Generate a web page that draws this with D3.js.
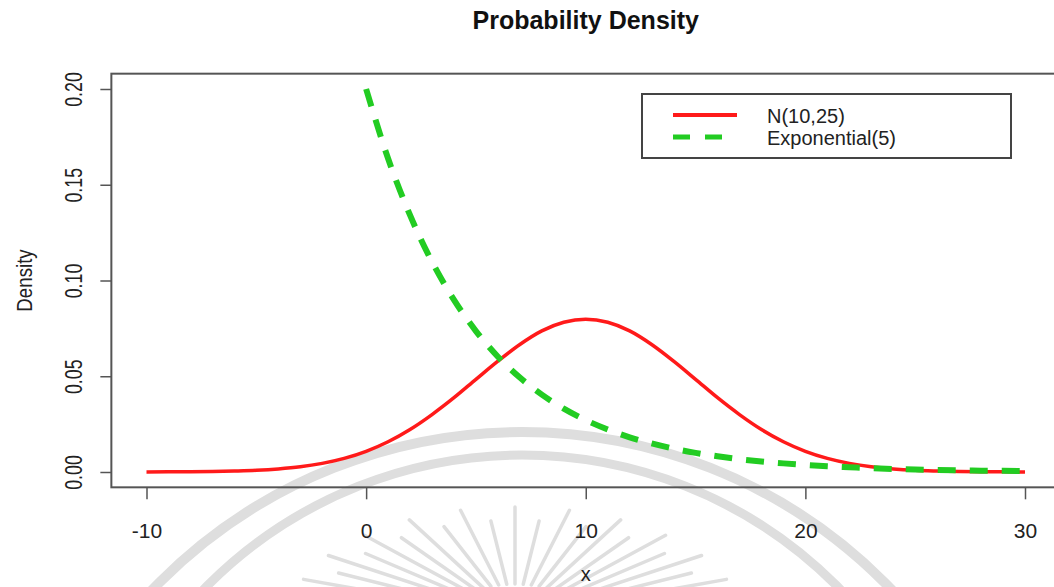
<!DOCTYPE html>
<html>
<head>
<meta charset="utf-8">
<script src="https://cdn.jsdelivr.net/npm/d3@7"></script>
<style>
  html, body { margin: 0; padding: 0; background: #ffffff; }
  svg { display: block; font-family: "Liberation Sans", Arial, sans-serif; }
</style>
</head>
<body>
<script>
// Axis ticks
const xTicks = [-10, 0, 10, 20, 30];
const yTicks = [0, 0.05, 0.10, 0.15, 0.20];
const yTickLabels = ["0.00", "0.05", "0.10", "0.15", "0.20"];

// N(10,25) density curve
const normalX = [-10, -9, -8, -7, -6, -5, -4, -3, -2, -1, 0, 1, 2, 3, 4, 5, 6, 7, 8, 9, 10,
                 11, 12, 13, 14, 15, 16, 17, 18, 19, 20, 21, 22, 23, 24, 25, 26, 27, 28, 29, 30];
const normalDensity = [0.0000, 0.0001, 0.0001, 0.0002, 0.0005, 0.0009, 0.0016, 0.0027, 0.0045, 0.0071,
                       0.0108, 0.0158, 0.0222, 0.0300, 0.0388, 0.0484, 0.0579, 0.0666, 0.0737, 0.0782,
                       0.0798, 0.0782, 0.0737, 0.0666, 0.0579, 0.0484, 0.0388, 0.0300, 0.0222, 0.0158,
                       0.0108, 0.0071, 0.0045, 0.0027, 0.0016, 0.0009, 0.0005, 0.0002, 0.0001, 0.0001, 0.0000];

// Exponential(5) density curve
const expX = [0, 1, 2, 3, 4, 5, 6, 7, 8, 9, 10, 11, 12, 13, 14, 15,
              16, 17, 18, 19, 20, 21, 22, 23, 24, 25, 26, 27, 28, 29, 30];
const expDensity = [0.2000, 0.1637, 0.1341, 0.1098, 0.0899, 0.0736, 0.0602, 0.0493, 0.0404, 0.0331,
                    0.0271, 0.0222, 0.0181, 0.0149, 0.0122, 0.0100, 0.0082, 0.0067, 0.0055, 0.0045,
                    0.0037, 0.0030, 0.0025, 0.0020, 0.0016, 0.0013, 0.0011, 0.0009, 0.0007, 0.0006, 0.0005];

const seriesNames = ["N(10,25)", "Exponential(5)"];
const seriesColors = ["#ff1a1a", "#22cc22"];

const W = 1054, H = 587;
const svg = d3.select("body").append("svg").attr("width", W).attr("height", H);

const x = d3.scaleLinear().domain([-10, 30]).range([146.5, 1025]);
const y = d3.scaleLinear().domain([0, 0.2]).range([472, 89]);

// plot region: data range padded by 4% on each side
const xPad = (x.domain()[1] - x.domain()[0]) * 0.04;
const yPad = (y.domain()[1] - y.domain()[0]) * 0.04;
const boxL = x(x.domain()[0] - xPad), boxR = x(x.domain()[1] + xPad);
const boxT = y(y.domain()[1] + yPad), boxB = y(y.domain()[0] - yPad);

// faint seal in the background
const seal = svg.append("g").attr("fill", "none").attr("stroke", "#dedede");
seal.append("circle").attr("cx", 522).attr("cy", 944).attr("r", 512).attr("stroke-width", 10);
seal.append("circle").attr("cx", 522).attr("cy", 899).attr("r", 444).attr("stroke-width", 9);
const rayCount = 21;
d3.range(rayCount).forEach(i => {
  const th = (-70 + i * 140 / (rayCount - 1)) * Math.PI / 180;
  const s = i % 2 === 0 ? 1 : 0.88;
  const cx = 515, cy = 617, a = 225, b = 110;
  seal.append("line")
    .attr("x1", cx + a * s * Math.sin(th)).attr("y1", cy - b * s * Math.cos(th))
    .attr("x2", cx + a * 0.3 * Math.sin(th)).attr("y2", cy - b * 0.3 * Math.cos(th))
    .attr("stroke-width", 3.5).attr("stroke-linecap", "round");
});

// curves
const line = d3.line().curve(d3.curveMonotoneX);
svg.append("path")
  .attr("d", line(normalX.map((v, i) => [x(v), y(normalDensity[i])])))
  .attr("fill", "none").attr("stroke", seriesColors[0]).attr("stroke-width", 3.5);
svg.append("path")
  .attr("d", line(expX.map((v, i) => [x(v), y(expDensity[i])])))
  .attr("fill", "none").attr("stroke", seriesColors[1]).attr("stroke-width", 6)
  .attr("stroke-dasharray", "18 14");

// plot box
svg.append("rect")
  .attr("x", boxL).attr("y", boxT).attr("width", boxR - boxL).attr("height", boxB - boxT)
  .attr("fill", "none").attr("stroke", "#555").attr("stroke-width", 2);

// x axis
const xAxis = d3.axisBottom(x).tickValues(xTicks).tickSize(12).tickPadding(24).tickFormat(d => String(d));
const gx = svg.append("g").attr("transform", `translate(0,${boxB})`).call(xAxis);
gx.select(".domain").remove();
gx.selectAll(".tick line").attr("stroke", "#555").attr("stroke-width", 1.5);
gx.selectAll(".tick text").attr("font-size", 21).attr("fill", "#222")
  .attr("font-family", "Liberation Sans, Arial, sans-serif").attr("dy", "0.71em");

// y axis
const yAxis = d3.axisLeft(y).tickValues(yTicks).tickSize(11).tickFormat((d, i) => yTickLabels[i]);
const gy = svg.append("g").attr("transform", `translate(${boxL},0)`).call(yAxis);
gy.select(".domain").remove();
gy.selectAll(".tick line").attr("stroke", "#555").attr("stroke-width", 1.5);
gy.selectAll(".tick text")
  .attr("x", null).attr("dy", null)
  .attr("text-anchor", "middle")
  .attr("font-size", 24).attr("fill", "#222")
  .attr("font-family", "Liberation Sans, Arial, sans-serif")
  .attr("transform", `translate(${82 - boxL},0) rotate(-90) scale(0.74,1)`);

// titles
svg.append("text").attr("x", (boxL + boxR) / 2).attr("y", 29)
  .attr("text-anchor", "middle").attr("font-weight", "bold").attr("font-size", 25).attr("fill", "#111")
  .text("Probability Density");
svg.append("text").attr("x", (boxL + boxR) / 2).attr("y", 581)
  .attr("text-anchor", "middle").attr("font-size", 20).attr("fill", "#222")
  .text("x");
svg.append("text")
  .attr("transform", `translate(32,${(boxT + boxB) / 2}) rotate(-90) scale(0.85,1)`)
  .attr("text-anchor", "middle").attr("font-size", 22).attr("fill", "#222")
  .text("Density");

// legend
const lg = svg.append("g");
lg.append("rect").attr("x", 642).attr("y", 94).attr("width", 369).attr("height", 64)
  .attr("fill", "#fff").attr("stroke", "#444").attr("stroke-width", 2);
const legendRows = [
  { y: 115, dash: null, width: 4 },
  { y: 137, dash: "17 15", width: 5 }
];
legendRows.forEach((r, i) => {
  lg.append("line").attr("x1", 673).attr("x2", 737).attr("y1", r.y).attr("y2", r.y)
    .attr("stroke", seriesColors[i]).attr("stroke-width", r.width)
    .attr("stroke-dasharray", r.dash);
  lg.append("text").attr("x", 767).attr("y", r.y + 8)
    .attr("font-size", 20).attr("fill", "#222").text(seriesNames[i]);
});
</script>
</body>
</html>
